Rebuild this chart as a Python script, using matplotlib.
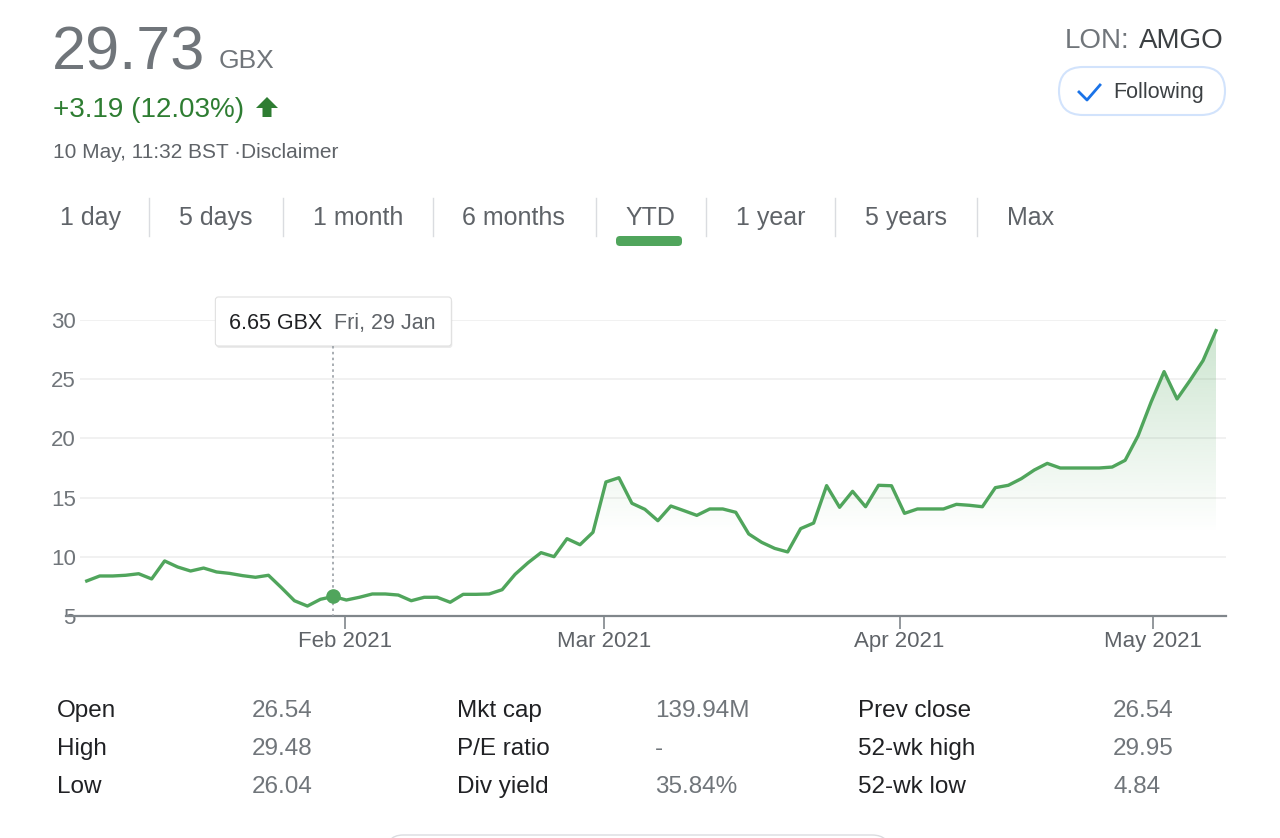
import matplotlib.pyplot as plt
import matplotlib.patches as mpatches
from matplotlib.colors import to_rgb
import numpy as np
import pandas as pd

plt.rcParams['font.family'] = ['Liberation Sans', 'DejaVu Sans']

# trading days (LSE) from 4 Jan to 10 May 2021
holidays = ["2021-04-02", "2021-04-05", "2021-05-03"]
dates = [d for d in pd.bdate_range("2021-01-04", "2021-05-10")
         if d.strftime("%Y-%m-%d") not in holidays]

prices = [7.96, 8.38, 8.38, 8.44, 8.57, 8.13, 9.65, 9.14, 8.80, 9.05, 8.72,
          8.60, 8.41, 8.27, 8.44, 7.39, 6.29, 5.84, 6.41, 6.65, 6.35,
          6.58, 6.86, 6.86, 6.77, 6.29, 6.58, 6.58, 6.16, 6.83, 6.83, 6.86,
          7.22, 8.52, 9.50, 10.35, 10.01, 11.53, 11.02, 12.07, 16.32, 16.68,
          14.52, 14.01, 13.05,
          14.29, 13.90, 13.50, 14.04, 14.04, 13.76, 11.93, 11.22, 10.71, 10.41,
          12.38, 12.85, 16.01, 14.18, 15.53, 14.23, 16.04, 16.00, 13.67, 14.04,
          14.04, 14.04,
          14.43, 14.35, 14.23, 15.84, 16.04, 16.60, 17.33, 17.89, 17.50, 17.50,
          17.50, 17.50, 17.58, 18.15, 20.23, 23.07, 25.64, 23.33, 24.90, 26.57,
          29.10]

month_starts = ["2021-02-01", "2021-03-01", "2021-04-01", "2021-05-01"]
month_labels = ["Feb 2021", "Mar 2021", "Apr 2021", "May 2021"]
y_ticks = [5, 10, 15, 20, 25, 30]

hover_idx = 19
hover_price = 6.65
hover_label = "Fri, 29 Jan"

tabs = ["1 day", "5 days", "1 month", "6 months", "YTD", "1 year", "5 years", "Max"]
stat_labels = [["Open", "High", "Low"], ["Mkt cap", "P/E ratio", "Div yield"],
               ["Prev close", "52-wk high", "52-wk low"]]
stat_values = [["26.54", "29.48", "26.04"], ["139.94M", "-", "35.84%"],
               ["26.54", "29.95", "4.84"]]

green = '#50a55c'
gray = '#70757a'
dark = '#202124'

fig = plt.figure(figsize=(12.8, 8.38), dpi=100)
W, H = 1280, 838
ax = fig.add_axes([80 / W, 1 - 616 / H, (1226 - 80) / W, (616 - 320) / H], zorder=1)

x = np.arange(len(prices))
ax.plot(x, prices, color=green, lw=2.4, zorder=4, solid_joinstyle='round')

# gradient area under the line
poly = ax.fill_between(x, prices, 5, color='none', lw=0)
gy = np.linspace(5, 30, 256)
rgba = np.zeros((256, 1, 4))
rgba[..., :3] = to_rgb(green)
rgba[..., 3] = (np.clip((gy - 12) / 18, 0, 1) * 0.3)[:, None]
im = ax.imshow(rgba, extent=[x[0], x[-1], 5, 30], origin='lower', aspect='auto', zorder=2)
clip = mpatches.PathPatch(poly.get_paths()[0], facecolor='none', edgecolor='none',
                          transform=ax.transData)
ax.add_patch(clip)
im.set_clip_path(clip)

ax.set_xlim(-0.52, 87.77)
ax.set_ylim(5, 30)

# month ticks placed on the trading-day scale
ts = np.array([(d + pd.Timedelta(hours=9)).value for d in dates], dtype=float)
mts = np.array([pd.Timestamp(m).value for m in month_starts], dtype=float)
ax.set_xticks(np.interp(mts, ts, x))
ax.set_xticklabels(month_labels)
ax.set_yticks(y_ticks)
ax.tick_params(axis='x', length=9.5, width=1.2, color='#80868b', labelsize=16,
               labelcolor='#5f6368', pad=1)
ax.tick_params(axis='y', length=0, labelsize=16, labelcolor=gray, pad=3)
ax.grid(axis='y', color='#efefef', lw=1.2)
ax.set_axisbelow(True)
for s in ax.spines.values():
    s.set_visible(False)
ax.plot([-0.012, 1], [0, 0], transform=ax.transAxes, color='#80868b', lw=1.6,
        clip_on=False, zorder=5)

# overlay in pixel coordinates
ov = fig.add_axes([0, 0, 1, 1], zorder=5)
ov.set_xlim(0, W)
ov.set_ylim(H, 0)
ov.axis('off')

ov.text(52, 69, "29.73", fontsize=44, color=gray, va='baseline')
ov.text(219, 68, "GBX", fontsize=19, color=gray, va='baseline')
ov.text(53, 117, "+3.19 (12.03%)", fontsize=20, color='#2e7d32', va='baseline')
ov.add_patch(mpatches.Polygon([(256, 108), (267, 97), (278, 108), (271.5, 108), (271.5, 117),
                               (262.5, 117), (262.5, 108)], closed=True, color='#2e7d32', lw=0))
ov.text(53, 158, "10 May, 11:32 BST \u00b7Disclaimer", fontsize=15, color='#5f6368',
        va='baseline')

ov.text(1224, 48, "AMGO", fontsize=20, color='#3c4043', va='baseline', ha='right')
ov.text(1129, 48, "LON:", fontsize=20, color=gray, va='baseline', ha='right')
ov.add_patch(mpatches.FancyBboxPatch((1059, 67), 166, 48,
                                     boxstyle="round,pad=0,rounding_size=24",
                                     facecolor='white', edgecolor='#d2e3fc', lw=1.5))
ov.plot([1079, 1087, 1100], [92, 100, 85], color='#1a73e8', lw=2)
ov.text(1113, 98, "Following", fontsize=15.5, color='#3c4043', va='baseline')

tab_x = [60, 179, 313, 462, 625, 736, 865, 1007]
sep_x = [149, 283, 433, 596, 706, 835, 977]
for t, tx in zip(tabs, tab_x):
    ov.text(tx, 225, t, fontsize=18, color='#5f6368', va='baseline')
for sx in sep_x:
    ov.plot([sx, sx], [198, 236], color='#dadce0', lw=1)
ov.add_patch(mpatches.FancyBboxPatch((616, 236), 66, 10,
                                     boxstyle="round,pad=0,rounding_size=4",
                                     facecolor=green, edgecolor='none'))

# hover tooltip
px, py = ax.transData.transform((hover_idx, hover_price))
py = H - py
ov.plot([px, px], [346, 616], color='#9aa0a6', lw=1.2, ls=(0, (1.5, 2)))
ov.plot(px, py, 'o', color=green, markersize=9.5)
bx0, bw = px - 118, 236
ov.add_patch(mpatches.FancyBboxPatch((bx0 + 1, 299), bw, 49,
                                     boxstyle="round,pad=0,rounding_size=3",
                                     facecolor='#000000', alpha=0.08, edgecolor='none'))
ov.add_patch(mpatches.FancyBboxPatch((bx0, 297), bw, 49,
                                     boxstyle="round,pad=0,rounding_size=3",
                                     facecolor='white', edgecolor='#e0e0e0', lw=0.8))
ov.text(bx0 + 14, 329, f"{hover_price:.2f} GBX", fontsize=15.5, color='#202124',
        va='baseline')
ov.text(bx0 + 119, 329, hover_label, fontsize=15.5, color='#5f6368', va='baseline')

# stats table
col_x = [(57, 252), (457, 655), (858, 1113)]
for (lx, vx), labs, vals in zip(col_x, stat_labels, stat_values):
    for i, (l, v) in enumerate(zip(labs, vals)):
        yb = 717 + 38 * i
        ov.text(lx, yb, l, fontsize=17.5, color=dark, va='baseline')
        ov.text(vx, yb, v, fontsize=17.5, color=gray, va='baseline')

ov.add_patch(mpatches.FancyBboxPatch((385, 835), 505, 40,
                                     boxstyle="round,pad=0,rounding_size=18",
                                     facecolor='none', edgecolor='#dadce0', lw=1))

fig.savefig("out.png", dpi=100)
